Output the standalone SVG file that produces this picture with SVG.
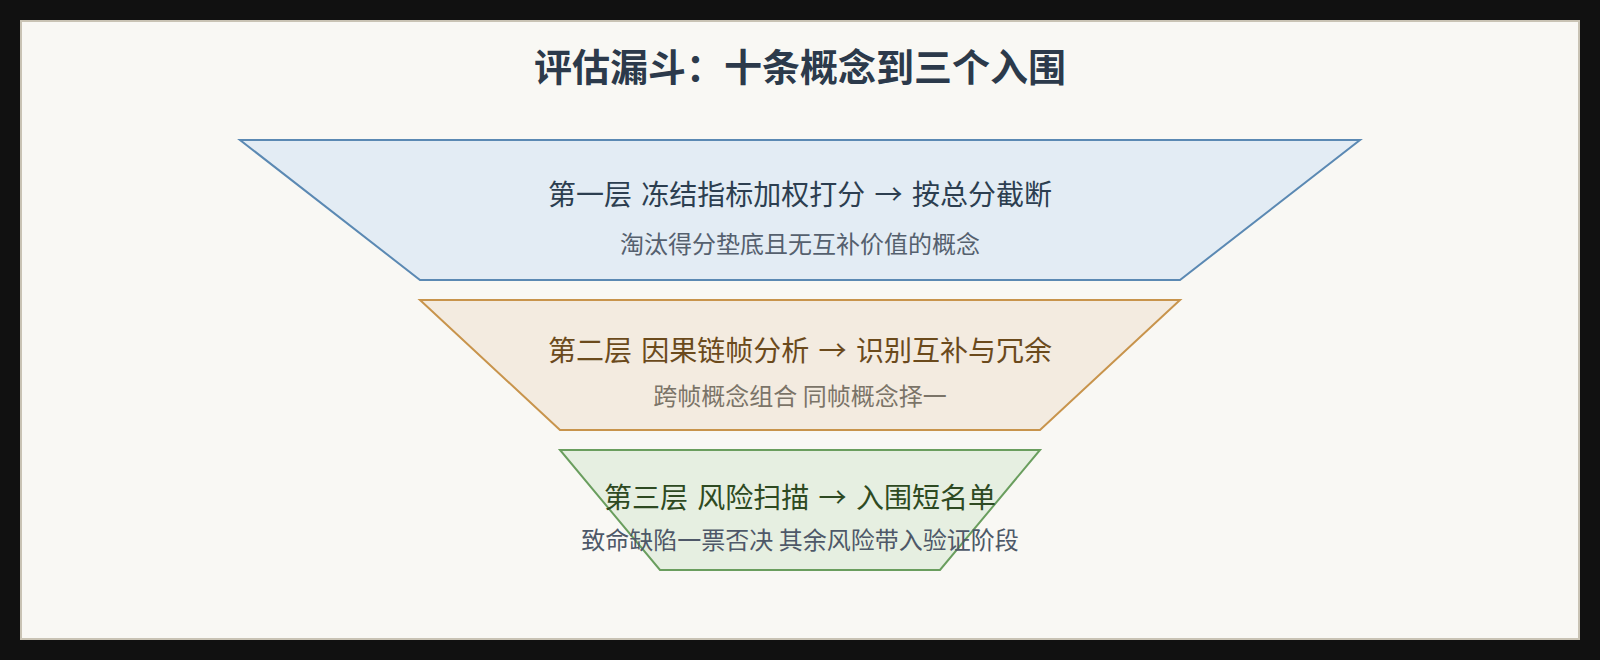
<svg xmlns="http://www.w3.org/2000/svg" width="1600" height="660" viewBox="0 0 1600 660">
  <style>
    .cjk { font-family: "Noto Sans CJK SC", "Noto Sans", "Liberation Sans", sans-serif; text-anchor: middle; }
    .title { font-size: 38px; font-weight: 700; fill: #2c3a4b; }
    .tt { font-size: 28px; font-weight: 400; word-spacing: 3px; }
    .st { font-size: 24px; font-weight: 400; }
    .tier { stroke-width: 2; stroke-linejoin: miter; }
  </style>
  <rect x="0" y="0" width="1600" height="660" fill="#111111"/>
  <rect x="21" y="21" width="1558" height="618" fill="#f9f8f4" stroke="#c9c3b4" stroke-width="2"/>
  <text class="cjk title" x="800" y="81">评估漏斗：十条概念到三个入围</text>
  <g id="connectors"></g>
  <g id="tier1">
    <polygon class="tier" points="240,140 1360,140 1180,280 420,280" fill="#e3ecf4" stroke="#5b89b3"/>
    <text class="cjk tt" x="800" y="205" fill="#2c3e50">第一层 冻结指标加权打分 → 按总分截断</text>
    <text class="cjk st" x="800" y="253" fill="#55606e">淘汰得分垫底且无互补价值的概念</text>
  </g>
  <g id="tier2">
    <polygon class="tier" points="420,300 1180,300 1040,430 560,430" fill="#f3ebe0" stroke="#c8944c"/>
    <text class="cjk tt" x="800" y="361" fill="#6b4a1c">第二层 因果链帧分析 → 识别互补与冗余</text>
    <text class="cjk st" x="800" y="405" fill="#7b7468">跨帧概念组合 同帧概念择一</text>
  </g>
  <g id="tier3">
    <polygon class="tier" points="560,450 1040,450 940,570 660,570" fill="#e6efe1" stroke="#6a9e5e"/>
    <text class="cjk tt" x="800" y="508" fill="#2e4a22">第三层 风险扫描 → 入围短名单</text>
    <text class="cjk st" x="800" y="549" fill="#4e5868">致命缺陷一票否决 其余风险带入验证阶段</text>
  </g>
</svg>
